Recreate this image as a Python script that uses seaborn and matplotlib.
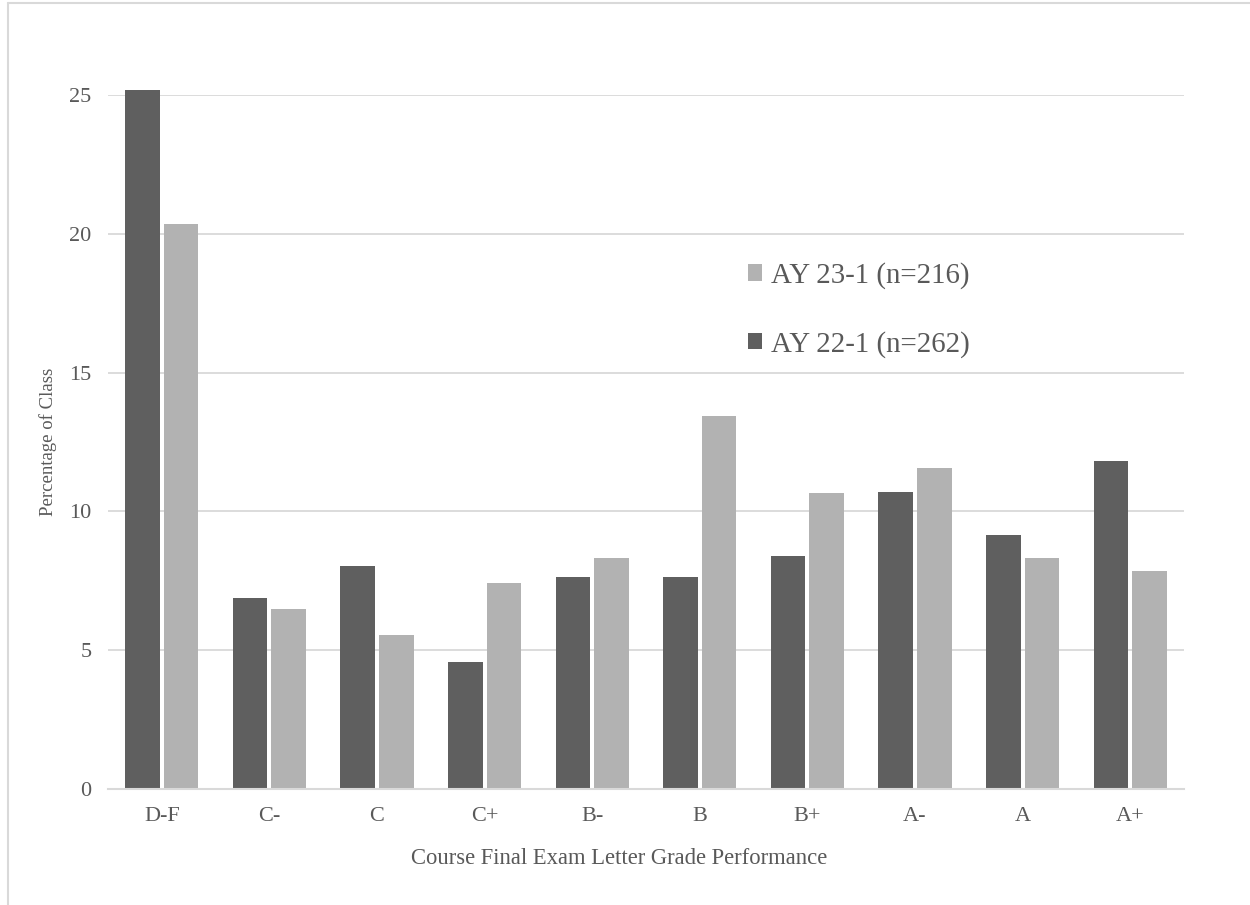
import matplotlib
matplotlib.use("Agg")
import matplotlib.pyplot as plt
import seaborn as sns
import pandas as pd
from matplotlib.lines import Line2D
from matplotlib.patches import Patch

grades = ["D-F", "C-", "C", "C+", "B-", "B", "B+", "A-", "A", "A+"]
ay22 = [25.19, 6.87, 8.02, 4.58, 7.63, 7.63, 8.40, 10.69, 9.16, 11.83]
ay23 = [20.37, 6.48, 5.56, 7.41, 8.33, 13.43, 10.65, 11.57, 8.33, 7.87]
series = ["AY 22-1 (n=262)", "AY 23-1 (n=216)"]
yticks = [0, 5, 10, 15, 20, 25]

df = pd.DataFrame({
    "grade": grades * 2,
    "pct": ay22 + ay23,
    "series": [series[0]] * len(grades) + [series[1]] * len(grades),
})

sns.set_theme(style="white")
plt.rcParams['font.family'] = ['Liberation Serif', 'DejaVu Serif']

dark = "#5f5f5f"
light = "#b2b2b2"
text_c = "#595959"

fig = plt.figure(figsize=(12.5, 9.05), dpi=100)
ax = fig.add_axes([108/1250, 1 - 789/905, (1184-108)/1250, (789-95)/905])

sns.barplot(data=df, x="grade", y="pct", hue="series", order=grades,
            hue_order=series, palette=[dark, light], width=0.716, gap=0.1,
            ax=ax, legend=False, edgecolor="none", linewidth=0)
for p in ax.patches:
    p.set_clip_on(False)

ax.set_ylim(0, 25)
ax.set_xlim(-0.5, len(grades) - 0.5)
ax.set_yticks(yticks)
ax.yaxis.grid(True, color="#d9d9d9", linewidth=1.3)
ax.set_axisbelow(True)
for s in ["top", "right", "left"]:
    ax.spines[s].set_visible(False)
ax.spines["bottom"].set_color("#d9d9d9")
ax.spines["bottom"].set_linewidth(1.5)
ax.tick_params(axis="both", length=0, labelsize=16, labelcolor=text_c)
ax.tick_params(axis="y", pad=12)
ax.tick_params(axis="x", pad=13)
ax.set_xlabel("Course Final Exam Letter Grade Performance", fontsize=16.3, color=text_c, labelpad=16)
ax.xaxis.label.set_x(0.475)
ax.set_ylabel("Percentage of Class", fontsize=13.5, color=text_c, labelpad=9)

handles = [Patch(facecolor=light, edgecolor="none"), Patch(facecolor=dark, edgecolor="none")]
leg = fig.legend(handles, [series[1], series[0]], loc="upper left",
                 bbox_to_anchor=(722/1250, 1 - 236/905), frameon=False,
                 fontsize=20.8, handlelength=0.5, handleheight=0.5,
                 handletextpad=0.3, labelspacing=1.45)
for t in leg.get_texts():
    t.set_color(text_c)

fig.add_artist(Line2D([8/1250, 8/1250], [0, 1 - 3/905], transform=fig.transFigure, color="#d9d9d9", linewidth=1.5))
fig.add_artist(Line2D([8/1250, 1], [1 - 3/905, 1 - 3/905], transform=fig.transFigure, color="#d9d9d9", linewidth=1.5))

fig.savefig("out.png", dpi=100)
